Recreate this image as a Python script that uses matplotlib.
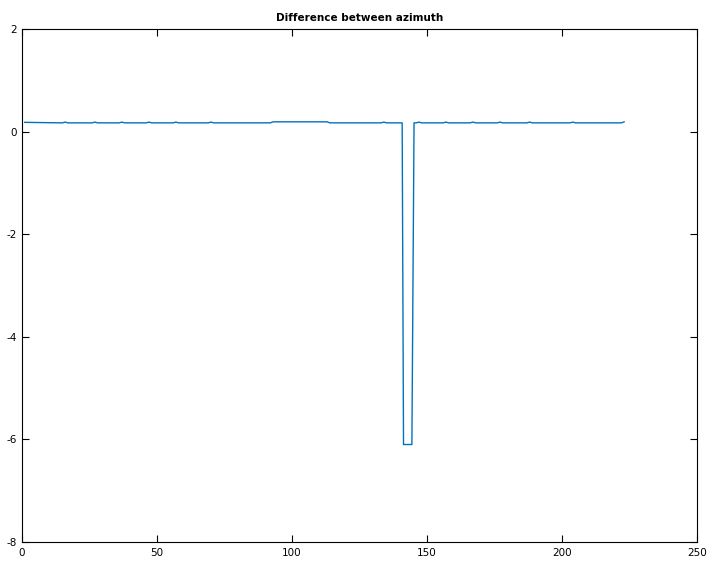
from matplotlib import pyplot as plt
import matplotlib
matplotlib.use('Agg')

plt.rcParams['axes.unicode_minus'] = False

# breakpoints of the difference curve
x_pts = [1, 15, 16, 17, 26, 27, 28, 36, 37, 38, 46, 47, 48, 56, 57, 58,
         69, 70, 71, 92, 93, 113, 114, 133, 134, 135, 140.8, 141.3, 144.4, 145.2,
         146, 147, 148, 156, 157, 158, 166, 167, 168, 176, 177, 178,
         187, 188, 189, 203, 204, 205, 222, 223]
y_pts = [0.18, 0.17, 0.185, 0.17, 0.17, 0.185, 0.17, 0.17, 0.185, 0.17, 0.17, 0.185, 0.17, 0.17, 0.185, 0.17,
         0.17, 0.185, 0.17, 0.17, 0.19, 0.19, 0.17, 0.17, 0.185, 0.17, 0.17, -6.1, -6.1, 0.17,
         0.17, 0.185, 0.17, 0.17, 0.185, 0.17, 0.17, 0.185, 0.17, 0.17, 0.185, 0.17,
         0.17, 0.185, 0.17, 0.17, 0.185, 0.17, 0.17, 0.19]

xticks = [0, 50, 100, 150, 200, 250]
yticks = [-8, -6, -4, -2, 0, 2]

fig = plt.figure(figsize=(7.18, 5.75), dpi=100)
ax = fig.add_axes([0.0306, 0.0574, 0.9402, 0.8922])
ax.plot(x_pts, y_pts, color='#0072BD', lw=1)
ax.set_xlim(0, 250)
ax.set_ylim(-8, 2)
ax.set_xticks(xticks)
ax.set_yticks(yticks)
ax.tick_params(direction='in', top=True, right=True, length=5, width=0.8, labelsize=7.5, pad=4)
for s in ax.spines.values():
    s.set_linewidth(0.8)
ax.set_title('Difference between azimuth', fontsize=7.5, fontweight='bold', pad=6)

fig.savefig('out.png', dpi=100)
